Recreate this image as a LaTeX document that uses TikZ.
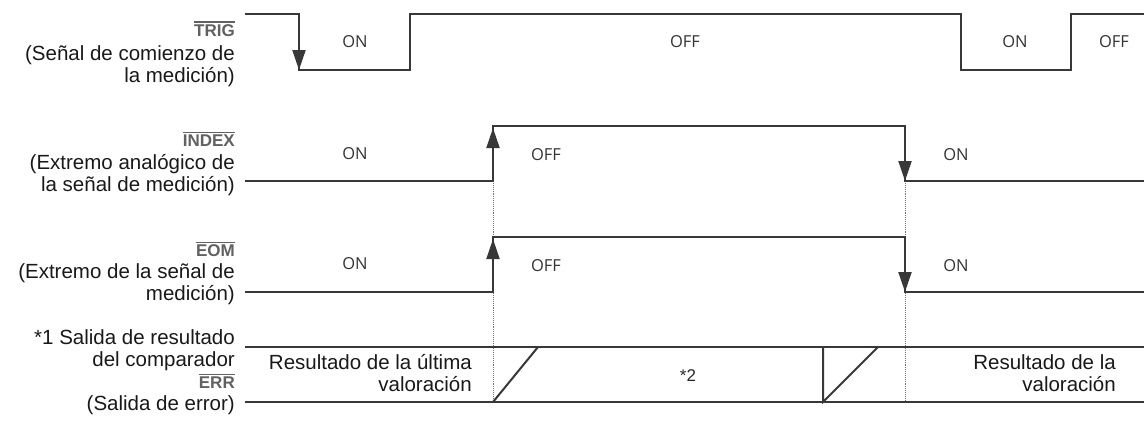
\documentclass[tikz,border=0pt]{standalone}
\usepackage{fontspec}
\setmainfont{Liberation Sans}
\newfontfamily\estadofont{Open Sans}
\usetikzlibrary{arrows.meta}

% nombre de senal negada (barra encima)
\newcommand\barsig[1]{\setbox0\hbox{#1}\rlap{\rule[\dimexpr\ht0+1.6pt\relax]{\wd0}{1.2pt}}\box0}

\begin{document}
\begin{tikzpicture}[
    x=1pt, y=-1pt,
    sig/.style={line width=2pt, draw=black!78},
    flanco/.style={sig, -{Triangle[length=20pt,width=13pt]}},
    guia/.style={draw=black!55, densely dotted, line width=0.9pt},
    desc/.style={anchor=base east, align=right, inner sep=0pt, text=black!90,
                 font=\fontsize{20.5}{22}\selectfont},
    nombre/.style={anchor=base east, inner sep=0pt, text=black!62,
                   font=\fontsize{17}{19}\selectfont\bfseries},
    estado/.style={inner sep=0pt, text=black!80,
                   font=\fontsize{16.5}{18}\selectfont\estadofont}
]
\useasboundingbox (0,0) rectangle (1144,421);

% lineas de referencia
\draw[guia] (493,126) -- (493,402);
\draw[guia] (905,126) -- (905,402);

% TRIG
\draw[sig] (245,14) -| (299,70) -| (410,14) -| (961,70) -| (1071,14) -- (1144,14);
\draw[flanco] (299,14) -- (299,70);
\node[nombre] (trig)     at (235,36) {\barsig{TRIG}};
\node[desc]   (trigdesc) at (235,82) {(Señal de comienzo de\\la medición)};
\node[estado] (trigon1)  at (355,42)  {ON};
\node[estado] (trigoff1) at (685,42)  {OFF};
\node[estado] (trigon2)  at (1015,42) {ON};
\node[estado] (trigoff2) at (1114,42) {OFF};

% INDEX
\draw[sig] (245,181) -| (493,126) -| (905,181) -- (1144,181);
\draw[flanco] (493,181) -- (493,128);
\draw[flanco] (905,126) -- (905,181);
\node[nombre] (index)     at (235,146.5) {\barsig{INDEX}};
\node[desc]   (indexdesc) at (235,191) {(Extremo analógico de\\la señal de medición)};
\node[estado] (indexon1)  at (355,154) {ON};
\node[estado] (indexoff)  at (546,155) {OFF};
\node[estado] (indexon2)  at (956,155) {ON};

% EOM
\draw[sig] (245,292) -| (493,237) -| (905,292) -- (1144,292);
\draw[flanco] (493,292) -- (493,239);
\draw[flanco] (905,237) -- (905,292);
\node[nombre] (eom)     at (235,256.5) {\barsig{EOM}};
\node[desc]   (eomdesc) at (235,300) {(Extremo de la señal de\\medición)};
\node[estado] (eomon1)  at (355,264) {ON};
\node[estado] (eomoff)  at (546,266) {OFF};
\node[estado] (eomon2)  at (956,266) {ON};

% salida del comparador / ERR
\draw[sig] (245,347) -- (1144,347);
\draw[sig] (245,402) -- (1144,402);
\draw[sig] (493,402) -- (538,347);
\draw[sig] (823,347) -- (823,402) -- (878,347);
\node[desc]   (compdesc) at (235,366) {*1 Salida de resultado\\del comparador};
\node[nombre] (err)      at (235,388) {\barsig{ERR}};
\node[desc]   (errdesc)  at (235,410) {(Salida de error)};
\node[desc]   (ultima)   at (472,391) {Resultado de la última\\valoración};
\node[inner sep=0pt, font=\fontsize{17}{19}\selectfont, text=black!85] (nota2) at (688,376) {*2};
\node[desc]   (valor)    at (1116,391) {Resultado de la\\valoración};

\end{tikzpicture}
\end{document}
